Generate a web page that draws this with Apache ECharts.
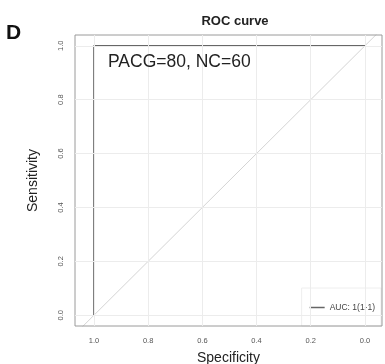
<!DOCTYPE html>
<html>
<head>
<meta charset="utf-8">
<script src="https://cdn.jsdelivr.net/npm/echarts@6/dist/echarts.min.js"></script>
<style>
  html, body { margin: 0; padding: 0; background: #fff; }
  #chart { width: 385px; height: 364px; }
</style>
</head>
<body>
<div id="chart"></div>
<script>
// ROC points (specificity, sensitivity)
const rocSpecificity = [1.0, 1.0, 0.0];
const rocSensitivity = [0.0, 1.0, 1.0];
const tickValues = [0, 0.2, 0.4, 0.6, 0.8, 1.0];
// reference diagonal, spans past the panel and gets clipped
const diagSpecificity = [1.2, -0.2];
const diagSensitivity = [-0.2, 1.2];
const legendLabel = "AUC: 1(1-1)";
const sampleNote = "PACG=80, NC=60";

const chart = echarts.init(document.getElementById("chart"));

const gridColor = "#ececec";
const tickLabelStyle = { color: "#555", fontSize: 7.5, fontFamily: "Liberation Sans" };

chart.setOption({
  animation: false,
  title: {
    text: "ROC curve",
    left: 230,
    top: 10,
    textAlign: "center",
    textStyle: { fontSize: 13, fontWeight: "bold", color: "#222", fontFamily: "Liberation Sans" },
  },
  graphic: [
    {
      type: "text",
      left: 6,
      top: 23,
      z: 10,
      style: { text: "D", fontSize: 21, fontWeight: "bold", fill: "#111", fontFamily: "Liberation Sans" },
    },
    {
      type: "text",
      left: 108,
      top: 53,
      z: 10,
      style: { text: sampleNote, fontSize: 17.5, fill: "#222", fontFamily: "Liberation Sans" },
    },
  ],
  legend: {
    data: [legendLabel],
    right: 4,
    top: 288,
    padding: [15, 6, 14, 8],
    borderColor: "#eeeeee",
    borderWidth: 1,
    backgroundColor: "#fff",
    icon: "rect",
    itemWidth: 15,
    itemHeight: 1.5,
    itemGap: 6,
    textStyle: { fontSize: 8.5, color: "#444", fontFamily: "Liberation Sans" },
  },
  grid: {
    left: 75,
    top: 35,
    right: 3,
    bottom: 38,
    outerBoundsMode: "none",
    containLabel: false,
    show: true,
    borderColor: "#9a9a9a",
    borderWidth: 1,
    backgroundColor: "transparent",
    z: 5,
  },
  xAxis: {
    type: "value",
    inverse: true,
    min: -0.063,
    max: 1.07,
    name: "Specificity",
    nameLocation: "middle",
    nameGap: 25,
    nameTextStyle: { fontSize: 14, color: "#222", fontFamily: "Liberation Sans" },
    axisLine: { show: false },
    axisTick: { show: true, length: 4, lineStyle: { color: "#999" }, customValues: tickValues },
    axisLabel: {
      ...tickLabelStyle,
      margin: 11,
      customValues: tickValues,
      formatter: (v) => v.toFixed(1),
    },
    splitLine: { show: false },
  },
  yAxis: {
    type: "value",
    min: -0.04,
    max: 1.04,
    name: "Sensitivity",
    nameLocation: "middle",
    nameGap: 35,
    nameTextStyle: { fontSize: 14, color: "#222", fontFamily: "Liberation Sans" },
    axisLine: { show: false },
    axisTick: { show: true, length: 4, lineStyle: { color: "#999" }, customValues: tickValues },
    axisLabel: {
      ...tickLabelStyle,
      rotate: 90,
      margin: 10,
      customValues: tickValues,
      formatter: (v) => v.toFixed(1),
    },
    splitLine: { show: false },
  },
  series: [
    {
      name: "grid",
      type: "line",
      data: [],
      silent: true,
      markLine: {
        silent: true,
        symbol: "none",
        label: { show: false },
        lineStyle: { color: gridColor, type: "solid", width: 1 },
        data: tickValues
          .map((v) => ({ xAxis: v }))
          .concat(tickValues.map((v) => ({ yAxis: v }))),
      },
      z: 1,
    },
    {
      name: "diagonal",
      type: "line",
      data: diagSpecificity.map((s, i) => [s, diagSensitivity[i]]),
      showSymbol: false,
      symbol: "none",
      clip: true,
      silent: true,
      lineStyle: { color: "#d4d4d4", width: 1 },
      z: 2,
    },
    {
      name: legendLabel,
      type: "line",
      data: rocSpecificity.map((s, i) => [s, rocSensitivity[i]]),
      showSymbol: false,
      symbol: "none",
      color: "#666",
      lineStyle: { color: "#666", width: 1.6 },
      z: 3,
    },
  ],
});
</script>
</body>
</html>
